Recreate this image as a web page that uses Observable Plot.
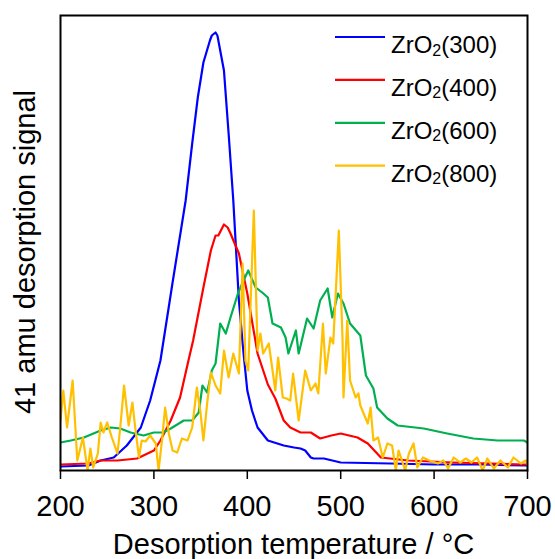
<!DOCTYPE html>
<html>
<head>
<meta charset="utf-8">
<script src="https://cdn.jsdelivr.net/npm/d3@7"></script>
<script src="https://cdn.jsdelivr.net/npm/@observablehq/plot@0.6"></script>
<style>
  html, body { margin: 0; padding: 0; background: #fff; }
  #chart { width: 555px; height: 559px; overflow: hidden; }
</style>
</head>
<body>
<div id="chart"></div>
<script>
// Desorption temperature (°C) and 41 amu signal (arbitrary units) per sample
const t300 = [200,230,243,257,271,286,296,307,320,334,341,347,353,360,362,366,368,375,380,385,391,396,400,405,411,422,439,450,457,462,468,471,482,500,553,600,650,700];
const s300 = [1,2,7,10,22,40,67,107,185,267,324,370,405,427,432,435,432,397,334,267,167,114,77,57,40,27,22,20,19,17,10,9,9,5,4,3,3,2];

const t400 = [200,230,243,261,282,300,307,318,328,337,342,353,361,366,369,375,379,382,391,400,411,422,430,439,446,457,468,478,490,500,518,529,543,572,620,696,700];
const s400 = [3,4,7,7,9,17,27,47,70,107,127,180,217,232,232,243,240,234,214,174,114,83,69,47,40,35,35,29,32,34,30,24,10,7,5,3,3];

const t600 = [200,211,225,243,254,264,275,289,300,310,318,332,341,348,352,357,362,366,371,377,382,390,395,401,409,416,422,427,436,441,444,452,455,464,471,478,486,491,497,503,510,521,527,535,539,550,561,589,614,642,668,696,700];
const s600 = [25,27,30,37,40,39,35,32,35,35,39,47,47,55,82,75,97,104,144,134,150,174,185,197,180,175,170,144,140,130,114,137,114,149,139,167,179,150,174,164,144,132,92,79,60,49,42,39,34,29,27,27,25];

const t800 = [200,203,207,213,218,224,229,232,235,240,243,246,250,255,261,264,268,273,277,280,284,287,291,296,302,305,309,312,316,320,325,330,336,341,346,350,353,357,361,366,371,375,380,385,391,395,398,401,407,411,414,417,423,430,433,438,442,446,449,455,462,468,473,476,481,484,489,492,498,502,503,507,510,516,519,521,529,532,535,540,545,550,555,559,562,569,573,578,582,588,595,604,610,615,621,628,634,640,646,652,657,664,671,679,685,693,698,701];
const s800 = [47,77,40,87,7,30,-3,19,0,14,45,35,45,30,14,40,82,42,65,40,10,27,26,32,24,-3,30,60,34,17,15,29,27,40,80,54,27,64,95,82,74,117,90,114,94,204,107,97,257,117,134,114,124,77,110,70,69,67,94,47,97,77,84,74,144,94,130,124,237,127,70,147,87,70,74,62,44,60,27,30,10,24,22,-3,17,-3,14,24,0,10,7,4,7,-1,10,5,9,5,10,-3,9,-1,7,0,10,4,7,1];

const names = ["300","400","600","800"];
const colors = ["#0000FF","#FF0000","#00B050","#FFC000"];
const xTicks = [200,300,400,500,600,700];

const series = [[t300,s300],[t400,s400],[t600,s600],[t800,s800]];
const rows = [];
series.forEach(([ts, ss], i) => ts.forEach((t, j) => rows.push({T: t, S: ss[j], name: names[i]})));

const font = "'Liberation Sans', Arial, Helvetica, sans-serif";

const chart = Plot.plot({
  width: 555,
  height: 559,
  marginLeft: 60,
  marginRight: 28,
  marginTop: 15,
  marginBottom: 89,
  style: {fontFamily: font, fontSize: "29px", color: "#000", background: "#fff", overflow: "visible"},
  x: {domain: [200, 700]},
  y: {domain: [-3, 452], axis: null},
  color: {domain: names, range: colors},
  marks: [
    Plot.axisX({ticks: xTicks, tickSize: 9, tickPadding: 16, tickFormat: d => String(d), label: null, fontSize: 29, strokeWidth: 1.5}),
    ...names.map(n => Plot.line(rows.filter(r => r.name === n), {x: "T", y: "S", stroke: "name", strokeWidth: 2.2, clip: true})),
    Plot.frame({stroke: "#000", strokeWidth: 2})
  ]
});
document.getElementById("chart").appendChild(chart);

const svg = d3.select(chart);
// axis titles
svg.append("text")
  .attr("x", 293.5).attr("y", 554)
  .attr("text-anchor", "middle")
  .attr("font-family", font).attr("font-size", 29).attr("fill", "#000")
  .text("Desorption temperature / °C");
svg.append("text")
  .attr("transform", "translate(35,252) rotate(-90)")
  .attr("text-anchor", "middle")
  .attr("font-family", font).attr("font-size", 29).attr("fill", "#000")
  .text("41 amu desorption signal");

// legend
const lg = svg.append("g").attr("font-family", font).attr("fill", "#000").attr("text-anchor", "start");
names.forEach((n, i) => {
  const y = 37 + i * 42.9;
  lg.append("line").attr("x1", 335).attr("x2", 385).attr("y1", y).attr("y2", y)
    .attr("stroke", colors[i]).attr("stroke-width", 2.2);
  const t = lg.append("text").attr("x", 391).attr("y", y + 16).attr("font-size", 24).attr("text-anchor", "start");
  t.append("tspan").text("ZrO");
  t.append("tspan").attr("font-size", 16).attr("dy", 2.5).text("2");
  t.append("tspan").attr("dy", -2.5).text("(" + n + ")");
});
</script>
</body>
</html>
